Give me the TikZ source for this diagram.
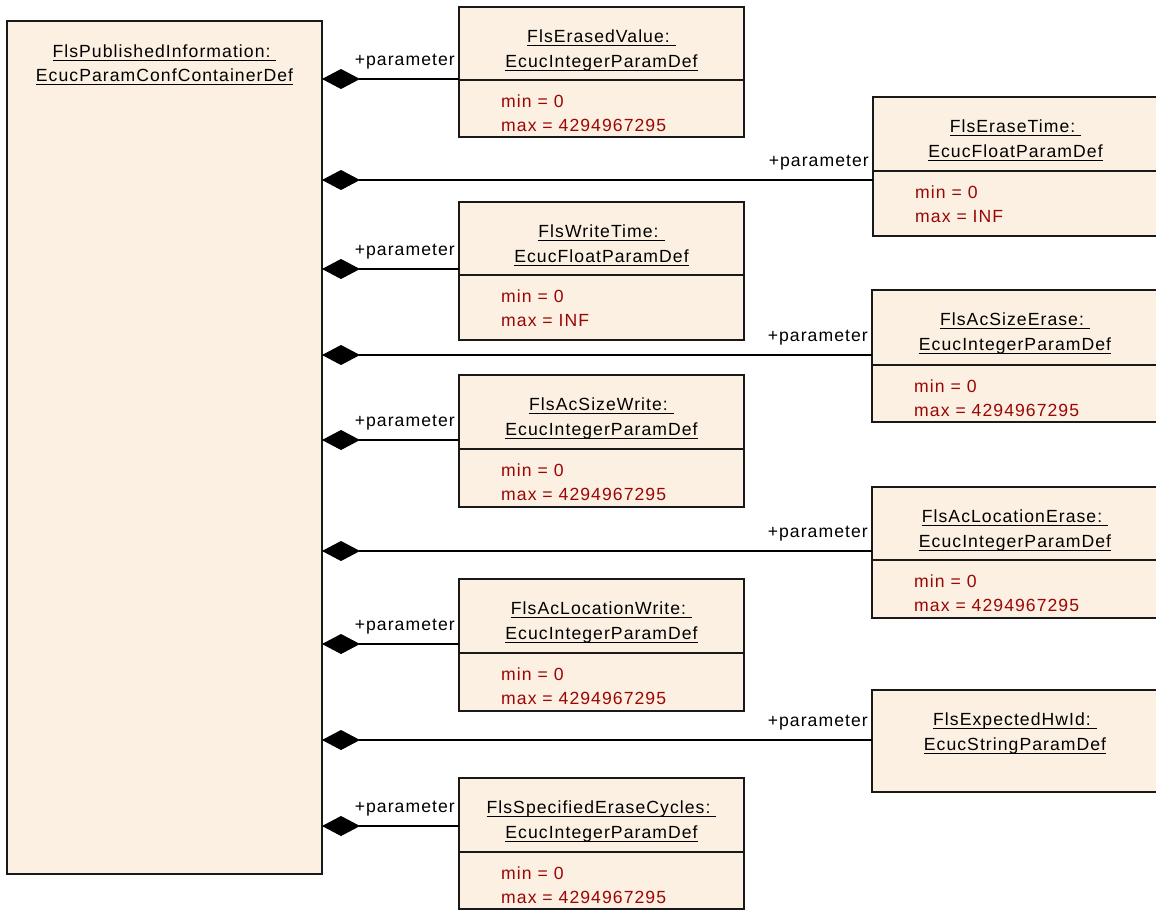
\documentclass[tikz,border=0pt]{standalone}
\usepackage{fontspec}
\setmainfont{Liberation Sans}[LetterSpace=6]
\usetikzlibrary{arrows.meta}
\definecolor{boxfill}{RGB}{251,240,225}
\definecolor{attrred}{RGB}{155,5,5}
\newsavebox\ulbox
\newcommand\myul[1]{\sbox\ulbox{#1}\rlap{\rule[-4pt]{\wd\ulbox}{1.2pt}}\usebox\ulbox}
\tikzset{
  clsbox/.style={draw=black!90, fill=boxfill, line width=1.2pt, inner sep=0pt, outer sep=0pt, rectangle, anchor=north west},
  ttl/.style={inner sep=0pt, anchor=base},
  attr/.style={text=attrred, inner sep=0pt, anchor=base west},
  lbl/.style={inner sep=0pt, anchor=base east},
  comp/.style={line width=1.1pt, {Diamond[length=38pt,width=20pt]}-},
  divl/.style={line width=1.2pt, draw=black!90}
}
\newcommand\clsbox[7]{%
  \node[clsbox, minimum width={#4-#2}, minimum height={#5-#3}] (#1) at (#2,#3) {};
  \node[ttl] (#1-t1) at ([yshift=-35pt]#1.north) {\myul{#6}};
  \node[ttl] (#1-t2) at ([yshift=-60pt]#1.north) {\myul{#7}};
}
\newcommand\clsattr[4]{%
  \coordinate (#1-d) at (#1.west |- 0,#2);
  \draw[divl] (#1-d) -- (#1.east |- #1-d);
  \node[attr] (#1-min) at ([shift={(42,27)}]#1-d) {#3};
  \node[attr] (#1-max) at ([shift={(42,51)}]#1-d) {#4};
}
\newcommand\conn[2]{%
  \coordinate (#1-p) at (#1.west |- 0,#2);
  \draw[comp] (cont.east |- #1-p) -- (#1-p);
  \node[lbl] (#1-l) at ([shift={(-4,-14)}]#1-p) {+parameter};
}
\begin{document}
\begin{tikzpicture}[x=1pt, y=-1pt, font=\fontsize{17.6}{24}\selectfont]
\useasboundingbox (0,0) rectangle (1156,911);
% container
\node[clsbox, minimum width=315, minimum height=853] (cont) at (7,21) {};
\node[ttl] (cont-t1) at ([yshift=-36pt]cont.north) {\myul{FlsPublishedInformation:\ }};
\node[ttl] (cont-t2) at ([yshift=-60pt]cont.north) {\myul{EcucParamConfContainerDef}};
% left column
\clsbox{ev}{459}{7}{744}{137}{FlsErasedValue:\ }{EcucIntegerParamDef}
\clsattr{ev}{80}{min = 0}{max = 4294967295}
\clsbox{wt}{459}{202}{744}{340}{FlsWriteTime:\ }{EcucFloatParamDef}
\clsattr{wt}{275}{min = 0}{max = INF}
\clsbox{asw}{459}{375}{744}{507}{FlsAcSizeWrite:\ }{EcucIntegerParamDef}
\clsattr{asw}{449}{min = 0}{max = 4294967295}
\clsbox{alw}{459}{579}{744}{711}{FlsAcLocationWrite:\ }{EcucIntegerParamDef}
\clsattr{alw}{653}{min = 0}{max = 4294967295}
\clsbox{sec}{459}{778}{744}{909}{FlsSpecifiedEraseCycles:\ }{EcucIntegerParamDef}
\clsattr{sec}{852}{min = 0}{max = 4294967295}
% right column
\clsbox{et}{873}{97}{1158}{236}{FlsEraseTime:\ }{EcucFloatParamDef}
\clsattr{et}{171}{min = 0}{max = INF}
\clsbox{ase}{872}{290}{1158}{422}{FlsAcSizeErase:\ }{EcucIntegerParamDef}
\clsattr{ase}{365}{min = 0}{max = 4294967295}
\clsbox{ale}{872}{487}{1158}{618}{FlsAcLocationErase:\ }{EcucIntegerParamDef}
\clsattr{ale}{560}{min = 0}{max = 4294967295}
\clsbox{hw}{872}{690}{1158}{792}{FlsExpectedHwId:\ }{EcucStringParamDef}
% connectors
\conn{ev}{79}
\conn{et}{180}
\conn{wt}{269}
\conn{ase}{355}
\conn{asw}{440}
\conn{ale}{551}
\conn{alw}{644}
\conn{hw}{740}
\conn{sec}{826}
\end{tikzpicture}
\end{document}
